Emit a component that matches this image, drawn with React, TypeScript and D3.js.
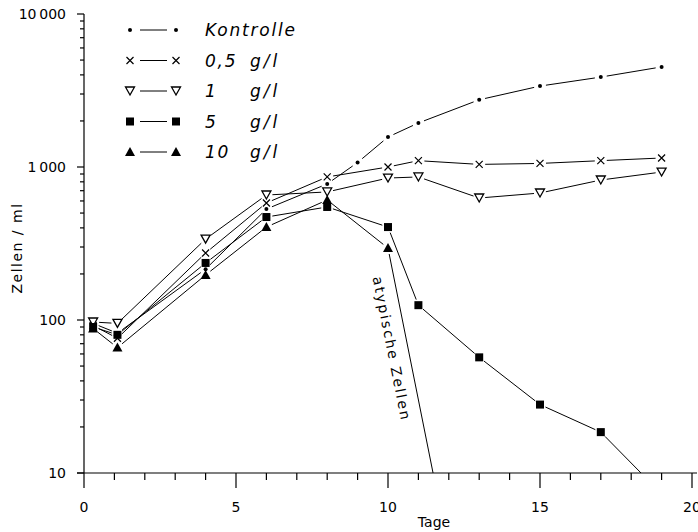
import React, { useEffect, useRef } from 'react';
import * as d3 from 'd3';

// days on the x axis
const kontrolleDays = [0.3, 1.1, 4, 6, 8, 9, 10, 11, 13, 15, 17, 19];
const kontrolleVals = [95, 82, 215, 531, 775, 1070, 1570, 1940, 2750, 3380, 3870, 4510];

const d05Days = [0.3, 1.1, 4, 6, 8, 10, 11, 13, 15, 17, 19];
const d05Vals = [92, 76, 274, 582, 861, 1000, 1100, 1040, 1055, 1100, 1145];

const d1Days = [0.3, 1.1, 4, 6, 8, 10, 11, 13, 15, 17, 19];
const d1Vals = [97, 95, 338, 656, 687, 847, 861, 627, 676, 822, 927];

const d5Days = [0.3, 1.1, 4, 6, 8, 10, 11, 13, 15, 17, 19];
const d5Vals = [90, 80, 236, 471, 548, 405, 125, 57, 28, 18.5, 7.3];

// last point is where the "atypische Zellen" line leaves the plot
const d10Days = [0.3, 1.1, 4, 6, 8, 10, 11.5];
const d10Vals = [88, 66, 197, 405, 609, 295, 9.6];

const yTicks = [10, 100, 1000, 10000];
const xTicks = [0, 5, 10, 15, 20];

const series = [
    { name: 'Kontrolle', unit: '', days: kontrolleDays, vals: kontrolleVals, sym: 'dot' },
    { name: '0,5', unit: 'g/l', days: d05Days, vals: d05Vals, sym: 'cross' },
    { name: '1', unit: 'g/l', days: d1Days, vals: d1Vals, sym: 'tri-down' },
    { name: '5', unit: 'g/l', days: d5Days, vals: d5Vals, sym: 'square' },
    { name: '10', unit: 'g/l', days: d10Days, vals: d10Vals, sym: 'tri-up' },
];

const FONT = '"DejaVu Sans", sans-serif';

const drawSymbol = (g, sym, x, y) => {
    if (sym === 'dot') {
        g.append('circle').attr('cx', x).attr('cy', y).attr('r', 2).attr('fill', '#000');
    } else if (sym === 'cross') {
        const s = 3.5;
        g.append('path')
            .attr('d', `M${x - s},${y - s}L${x + s},${y + s}M${x + s},${y - s}L${x - s},${y + s}`)
            .attr('stroke', '#000').attr('stroke-width', 1.2).attr('fill', 'none');
    } else if (sym === 'tri-down') {
        g.append('path')
            .attr('d', `M${x - 4.5},${y - 4}L${x + 4.5},${y - 4}L${x},${y + 4}Z`)
            .attr('stroke', '#000').attr('stroke-width', 1.3).attr('fill', '#fff');
    } else if (sym === 'square') {
        g.append('rect').attr('x', x - 4).attr('y', y - 4).attr('width', 8).attr('height', 8).attr('fill', '#000');
    } else if (sym === 'tri-up') {
        g.append('path')
            .attr('d', `M${x - 5},${y + 4}L${x + 5},${y + 4}L${x},${y - 5}Z`)
            .attr('fill', '#000');
    }
};

const Chart = () => {
    const svgRef = useRef(null);
    const width = 698;
    const height = 532;

    useEffect(() => {
        const svg = d3.select(svgRef.current);
        svg.selectAll('*').remove();

        const x = d3.scaleLinear().domain([0, 20]).range([84, 692]);
        const y = d3.scaleLog().domain([10, 10000]).range([473, 14]);

        const axes = svg.append('g').attr('stroke', '#000').attr('stroke-width', 1.2);

        // y axis
        axes.append('line').attr('x1', x(0)).attr('x2', x(0)).attr('y1', y(10000)).attr('y2', y(10) + 15);
        for (let dec = 10; dec < 10000; dec *= 10) {
            for (let k = 2; k <= 9; k++) {
                axes.append('line')
                    .attr('x1', x(0) - 4).attr('x2', x(0))
                    .attr('y1', y(dec * k)).attr('y2', y(dec * k));
            }
        }
        yTicks.forEach((t) => {
            axes.append('line').attr('x1', x(0) - 7).attr('x2', x(0)).attr('y1', y(t)).attr('y2', y(t));
            svg.append('text')
                .attr('x', x(0) - 18).attr('y', y(t) + 5)
                .attr('text-anchor', 'end')
                .style('font-family', FONT).style('font-size', '14px')
                .text(d3.format('d')(t).replace(/(\d)(\d{3})$/, '$1\u2009$2'));
        });

        // x axis
        axes.append('line').attr('x1', x(0) - 7).attr('x2', 697).attr('y1', y(10)).attr('y2', y(10));
        d3.range(1, 21).forEach((d) => {
            const major = d % 5 === 0;
            axes.append('line')
                .attr('x1', x(d)).attr('x2', x(d))
                .attr('y1', y(10)).attr('y2', y(10) + (major ? 15 : 7));
        });
        xTicks.forEach((t) => {
            svg.append('text')
                .attr('x', x(t)).attr('y', y(10) + 39)
                .attr('text-anchor', 'middle')
                .style('font-family', FONT).style('font-size', '14px')
                .text(t);
        });

        svg.append('text')
            .attr('x', 434).attr('y', 527)
            .attr('text-anchor', 'middle')
            .style('font-family', FONT).style('font-size', '14px')
            .text('Tage');

        svg.append('text')
            .attr('transform', `translate(22,248) rotate(-90)`)
            .attr('text-anchor', 'middle')
            .style('font-family', FONT).style('font-size', '14px')
            .style('letter-spacing', '1.5px')
            .text('Zellen / ml');

        // data lines, clipped at the axes, with gaps next to the markers
        svg.append('clipPath').attr('id', 'plot-clip')
            .append('rect').attr('x', x(0)).attr('y', 0).attr('width', width).attr('height', y(10));

        const lines = svg.append('g').attr('clip-path', 'url(#plot-clip)')
            .attr('stroke', '#000').attr('stroke-width', 1).attr('fill', 'none');
        const marks = svg.append('g');

        series.forEach((s) => {
            const pts = s.days.map((d, i) => ({ px: x(d), py: y(s.vals[i]), marked: s.vals[i] >= 10 }));
            for (let i = 0; i < pts.length - 1; i++) {
                const a = pts[i];
                const b = pts[i + 1];
                const dx = b.px - a.px;
                const dy = b.py - a.py;
                const len = Math.hypot(dx, dy);
                const ux = dx / len;
                const uy = dy / len;
                const ga = a.marked ? 6 : 0;
                const gb = b.marked ? 6 : 0;
                lines.append('line')
                    .attr('x1', a.px + ux * ga).attr('y1', a.py + uy * ga)
                    .attr('x2', b.px - ux * gb).attr('y2', b.py - uy * gb);
            }
            pts.filter((p) => p.marked).forEach((p) => drawSymbol(marks, s.sym, p.px, p.py));
        });

        // annotation along the ▲ drop, set to the left of the line
        const a0 = { px: x(d10Days[5]), py: y(d10Vals[5]) };
        const a1 = { px: x(d10Days[6]), py: y(d10Vals[6]) };
        const ang = (Math.atan2(a1.py - a0.py, a1.px - a0.px) * 180) / Math.PI;
        svg.append('text')
            .attr('transform', `translate(${(a0.px + a1.px) / 2 - 14},${(a0.py + a1.py) / 2 - 14}) rotate(${ang})`)
            .attr('text-anchor', 'middle')
            .attr('dy', '10')
            .style('font-family', FONT).style('font-size', '14px')
            .style('letter-spacing', '2px')
            .text('atypische  Zellen');

        // legend
        const legend = svg.append('g');
        series.forEach((s, i) => {
            const ly = 30 + i * 30.5;
            drawSymbol(legend, s.sym, 130, ly);
            drawSymbol(legend, s.sym, 176, ly);
            legend.append('line').attr('x1', 140).attr('x2', 167).attr('y1', ly).attr('y2', ly)
                .attr('stroke', '#000').attr('stroke-width', 1);
            legend.append('text')
                .attr('x', 205).attr('y', ly + 6)
                .style('font-family', FONT).style('font-size', '17px')
                .style('font-style', 'italic').style('letter-spacing', '1.8px')
                .text(s.name);
            if (s.unit) {
                legend.append('text')
                    .attr('x', 250).attr('y', ly + 6)
                    .style('font-family', FONT).style('font-size', '17px')
                    .style('font-style', 'italic').style('letter-spacing', '3px')
                    .text(s.unit);
            }
        });
    }, []);

    return (
        <svg
            ref={svgRef}
            width={width}
            height={height}
            style={{ position: 'absolute', left: 0, top: 0, background: '#fff' }}
        ></svg>
    );
};

export default function App() {
    return <Chart />;
}
